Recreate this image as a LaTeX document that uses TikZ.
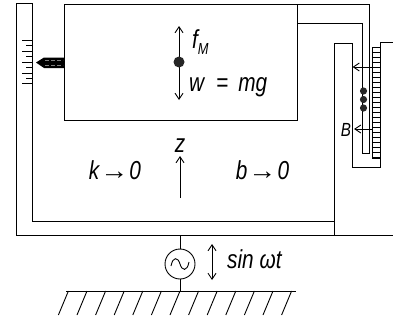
\documentclass[tikz,border=0pt]{standalone}
\usepackage{fontspec}
\setmainfont{Liberation Sans}[FakeStretch=0.8]
\usetikzlibrary{arrows.meta}
\newcommand{\longto}{\scalebox{1.35}[1]{→}}
\tikzset{
  ln/.style={draw=black,line width=0.9pt},
  arr/.style={ln,-{Straight Barb[length=6pt,width=8pt,line width=0.9pt]}},
  darr/.style={ln,{Straight Barb[length=6pt,width=8pt,line width=0.9pt]}-{Straight Barb[length=6pt,width=8pt,line width=0.9pt]}},
  lbl/.style={inner sep=0pt,font=\fontsize{26}{28}\selectfont\itshape},
}
\begin{document}
\begin{tikzpicture}[x=1pt,y=-1pt]
\useasboundingbox (0,0) rectangle (393,324);
% left post
\draw[ln] (16,235) -- (16,3) -- (32,3) -- (32,221);
% ticks
\foreach \y in {40,51,62,73,83} \draw[ln] (22,\y) -- (32,\y);
\foreach \y in {45.5,56.5,67.5,78} \draw[ln] (26,\y) -- (32,\y);
% pointer
\fill[black] (36,62.5) -- (44,57.5) -- (64,57.5) -- (64,68) -- (44,68) -- cycle;
\draw[gray,line width=0.5pt,dash pattern=on 4pt off 2pt] (45,60.5) -- (63,60.5) (45,65) -- (63,65);
% base plate
\draw[ln] (16,235) -- (393,235);
\draw[ln] (32,221) -- (334.5,221);
% mass box
\node[ln,rectangle,minimum width=233pt,minimum height=115.3pt,inner sep=0pt] (mass) at (180.5,62.35) {};
% bracket to plate
\draw[ln] (297,4.7) -- (369,4.7) -- (369,153) -- (362,153) -- (362,23) -- (297,23);
% U frame and wall
\draw[ln] (334.5,235) -- (334.5,43) -- (352,43) -- (352,167) -- (380.5,167) -- (380.5,42) -- (393,42);
% comb
\draw[ln] (372.5,47) -- (372.5,158) -- (380.5,158);
\foreach \i in {0,...,22} \draw[ln,line width=0.8pt] (372.5,47+5*\i) -- (380.5,47+5*\i);
% magnets
\foreach \y in {91,99.5,108} \fill[black!85] (363.5,\y) circle (3.6);
% field arrows
\coordinate (c1) at (372.5,67);
\coordinate (t1) at (352.5,67);
\coordinate (c2) at (372.5,129);
\coordinate (t2) at (354,129);
\draw[arr] (c1) -- (t1);
\draw[arr] (c2) -- (t2);
\node[lbl,font=\fontsize{19}{20}\selectfont\itshape] (B) at (346,129.5) {B};
% forces
\coordinate (ftop) at (179,26);
\coordinate (fbot) at (179,100);
\coordinate (cm) at (179,62);
\draw[arr] (cm) -- (ftop);
\draw[arr] (cm) -- (fbot);
\fill[black!85] (cm) circle (5.5);
\node[lbl,anchor=west] (fm) at (192,42) {f\raisebox{-6pt}{\fontsize{16}{16}\selectfont M}};
\node[lbl,anchor=west] (w) at (189,87) {w\hspace{12pt}=\hspace{10pt}mg};
% z arrow
\coordinate (zb) at (180,198);
\coordinate (zt) at (180,156);
\draw[arr] (zb) -- (zt);
\node[lbl] (z) at (180,146) {z};
\node[lbl] (k) at (115,170) {k\hspace{1pt}\longto\hspace{1pt}0};
\node[lbl] (b) at (262.5,170) {b\hspace{1pt}\longto\hspace{1pt}0};
% source
\node[ln,circle,minimum size=30pt,inner sep=0pt] (src) at (180,264) {};
\coordinate (sb) at (180,235);
\coordinate (sg) at (180,291);
\draw[ln] (sb) -- (src.north);
\draw[ln] (src.south) -- (sg);
\draw[ln] (171,266) .. controls (173,256) and (178,257) .. (180,264) .. controls (182,271) and (187,272) .. (189,262);
\coordinate (da) at (212,244);
\coordinate (db) at (212,280);
\draw[darr] (da) -- (db);
\node[lbl,anchor=west] (sin) at (227,259) {sin ωt};
% ground
\draw[ln] (66,291) -- (296,291);
\foreach \i in {0,...,12} \draw[ln] (68.4+18.6*\i,291) -- (58.4+18.6*\i,315);
\end{tikzpicture}
\end{document}
